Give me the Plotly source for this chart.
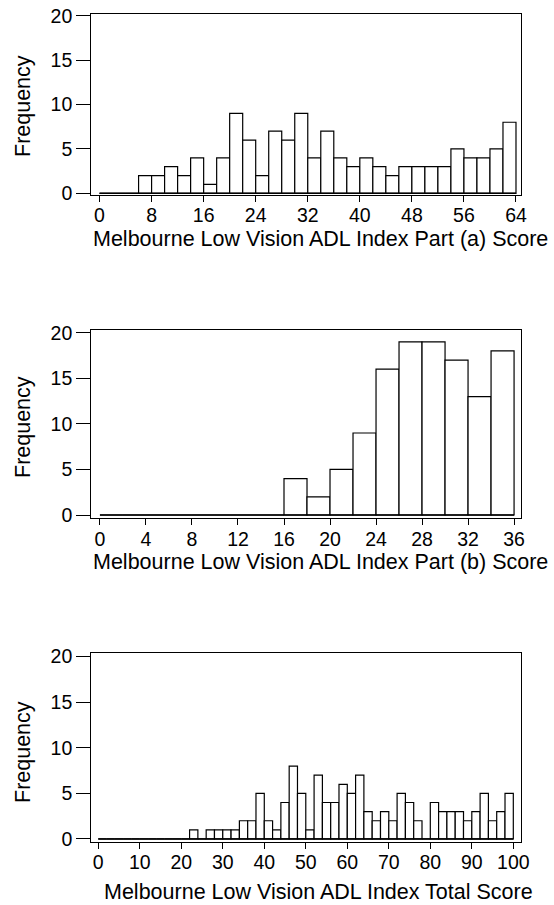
import plotly.graph_objects as go

# ---- data (bin width 2) ----
bin_width = 2

part_a_edges = list(range(0, 66, 2))          # 0..64
part_a_counts = [0, 0, 0, 2, 2, 3, 2, 4, 1, 4, 9, 6, 2, 7, 6, 9, 4, 7, 4, 3, 4, 3, 2,
                 3, 3, 3, 3, 5, 4, 4, 5, 8]
part_a_ticks = list(range(0, 65, 8))

part_b_edges = list(range(0, 38, 2))          # 0..36
part_b_counts = [0, 0, 0, 0, 0, 0, 0, 0, 4, 2, 5, 9, 16, 19, 19, 17, 13, 18]
part_b_ticks = list(range(0, 37, 4))

total_edges = list(range(0, 102, 2))          # 0..100
total_counts = [0, 0, 0, 0, 0, 0, 0, 0, 0, 0, 0,
                1, 0, 1, 1, 1, 1, 2, 2, 5, 2, 1, 4, 8, 5, 1, 7, 4, 4, 6, 5, 7,
                3, 2, 3, 2, 5, 4, 2, 0, 4, 3, 3, 3, 2, 3, 5, 2, 3, 5]
total_ticks = list(range(0, 101, 10))

y_ticks = [0, 5, 10, 15, 20]

x_titles = ["Melbourne Low Vision ADL Index Part (a) Score",
            "Melbourne Low Vision ADL Index Part (b) Score",
            "Melbourne Low Vision ADL Index Total Score"]
y_title = "Frequency"

FONT = "Liberation Sans, Arial, Helvetica, sans-serif"
W, H = 554, 905

panels = [
    dict(edges=part_a_edges, counts=part_a_counts, ticks=part_a_ticks,
         xr=[-1.28, 64.8], yr=[-0.19, 20.19], ydom=[1 - 195 / H, 1 - 14 / H],
         tx=320, ty=239, fy=106),
    dict(edges=part_b_edges, counts=part_b_counts, ticks=part_b_ticks,
         xr=[-0.76, 36.62], yr=[-0.36, 20.3], ydom=[1 - 518.3 / H, 1 - 330 / H],
         tx=320, ty=562, fy=427),
    dict(edges=total_edges, counts=total_counts, ticks=total_ticks,
         xr=[-1.7, 101.9], yr=[-0.3, 20.37], ydom=[1 - 841.7 / H, 1 - 653.3 / H],
         tx=318, ty=892, fy=752),
]

fig = go.Figure()
layout = dict(width=W, height=H,
              margin=dict(l=0, r=0, t=0, b=0, pad=0, autoexpand=False),
              paper_bgcolor="white", plot_bgcolor="white", showlegend=False,
              font=dict(family=FONT, color="black"), annotations=[])

xdom = [91.2 / W, 521.2 / W]
for i, p in enumerate(panels, start=1):
    xa = "x" if i == 1 else f"x{i}"
    ya = "y" if i == 1 else f"y{i}"
    centers = [e + bin_width / 2 for e in p["edges"][:-1]]
    fig.add_trace(go.Bar(x=centers, y=p["counts"], width=bin_width, xaxis=xa, yaxis=ya,
                         marker=dict(color="white", line=dict(color="black", width=1.2)),
                         hoverinfo="x+y"))
    fig.add_trace(go.Scatter(x=[p["edges"][0], p["edges"][-1]], y=[0, 0], mode="lines",
                             xaxis=xa, yaxis=ya, line=dict(color="black", width=1.5),
                             hoverinfo="skip"))
    axis_common = dict(showline=True, linecolor="black", linewidth=1, mirror=True,
                       ticks="outside", tickcolor="black", tickwidth=1,
                       showgrid=False, zeroline=False, automargin=False,
                       tickfont=dict(family=FONT, size=19.5, color="black"))
    layout["xaxis" if i == 1 else f"xaxis{i}"] = dict(
        axis_common, domain=xdom, range=p["xr"], tickmode="array",
        tickvals=p["ticks"], ticktext=[str(t) for t in p["ticks"]], ticklen=6,
        ticklabelstandoff=-3, anchor=ya)
    layout["yaxis" if i == 1 else f"yaxis{i}"] = dict(
        axis_common, domain=p["ydom"], range=p["yr"], tickmode="array",
        tickvals=y_ticks, ticktext=[str(t) for t in y_ticks], ticklen=14,
        anchor=xa)
    layout["annotations"].append(dict(
        text=x_titles[i - 1], xref="paper", yref="paper", x=p["tx"] / W, y=1 - p["ty"] / H,
        xanchor="center", yanchor="middle", showarrow=False,
        font=dict(family=FONT, size=21.5, color="black")))
    layout["annotations"].append(dict(
        text=y_title, xref="paper", yref="paper", x=23 / W, y=1 - p["fy"] / H,
        xanchor="center", yanchor="middle", showarrow=False, textangle=-90,
        font=dict(family=FONT, size=21.5, color="black")))

fig.update_layout(**layout)
fig.write_html("out.html", config={"displayModeBar": False},
               post_script="document.body.style.margin='0';document.body.style.overflow='hidden';")
